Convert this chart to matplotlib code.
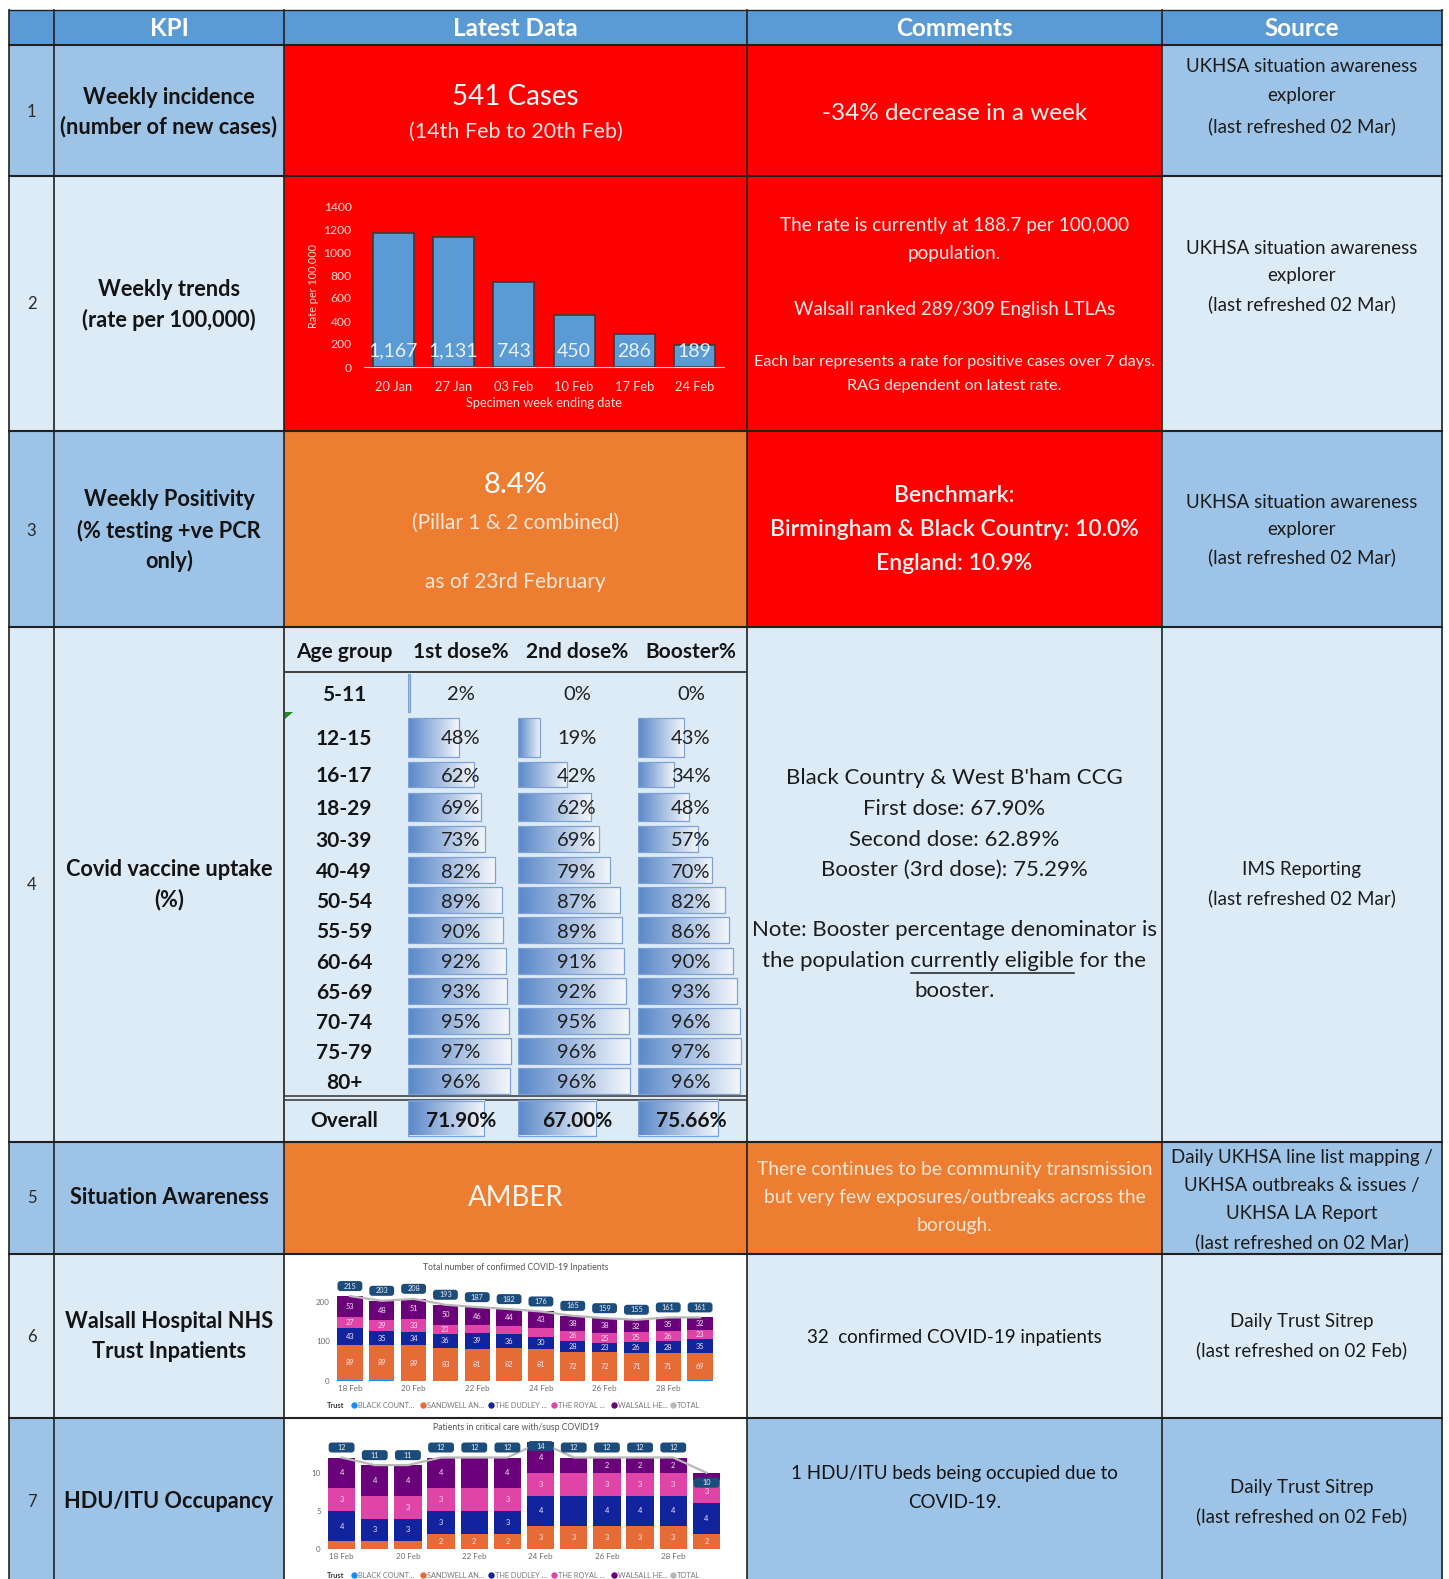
import numpy as np
import matplotlib
matplotlib.use('Agg')
import matplotlib.pyplot as plt
from matplotlib.patches import Rectangle, FancyBboxPatch, Polygon
from matplotlib.colors import LinearSegmentedColormap

plt.rcParams['font.family'] = ['Lato', 'DejaVu Sans']

W, H = 1449, 1579

# ---------------- data ----------------
headers = ['KPI', 'Latest Data', 'Comments', 'Source']

weeks = ['20 Jan', '27 Jan', '03 Feb', '10 Feb', '17 Feb', '24 Feb']
weekly_rate = [1167, 1131, 743, 450, 286, 189]

age_groups = ['5-11', '12-15', '16-17', '18-29', '30-39', '40-49', '50-54',
              '55-59', '60-64', '65-69', '70-74', '75-79', '80+']
first_dose = [2, 48, 62, 69, 73, 82, 89, 90, 92, 93, 95, 97, 96]
second_dose = [0, 19, 42, 62, 69, 79, 87, 89, 91, 92, 95, 96, 96]
booster = [0, 43, 34, 48, 57, 70, 82, 86, 90, 93, 96, 97, 96]
overall = [71.90, 67.00, 75.66]
dose_headers = ['1st dose%', '2nd dose%', 'Booster%']

days = ['18 Feb', '19 Feb', '20 Feb', '21 Feb', '22 Feb', '23 Feb',
        '24 Feb', '25 Feb', '26 Feb', '27 Feb', '28 Feb', '01 Mar']
trusts = ['BLACK COUNT...', 'SANDWELL AN...', 'THE DUDLEY ...',
          'THE ROYAL ...', 'WALSALL HE...', 'TOTAL']

inpat_black = [3, 2, 1, 1, 1, 1, 1, 1, 1, 1, 1, 2]
inpat_sandwell = [89, 89, 89, 83, 81, 82, 81, 72, 72, 71, 71, 69]
inpat_dudley = [43, 35, 34, 36, 39, 36, 30, 28, 23, 26, 28, 35]
inpat_royal = [27, 29, 33, 23, 20, 19, 21, 26, 25, 25, 26, 23]
inpat_walsall = [53, 48, 51, 50, 46, 44, 43, 38, 38, 32, 35, 32]
inpat_total = [215, 203, 208, 193, 187, 182, 176, 165, 159, 155, 161, 161]

icu_black = [0, 0, 0, 0, 0, 0, 0, 0, 0, 0, 0, 0]
icu_sandwell = [1, 1, 1, 2, 2, 2, 3, 3, 3, 3, 3, 2]
icu_dudley = [4, 3, 3, 3, 3, 3, 4, 4, 4, 4, 4, 4]
icu_royal = [3, 3, 3, 3, 3, 3, 3, 3, 3, 3, 3, 3]
icu_walsall = [4, 4, 4, 4, 4, 4, 4, 2, 2, 2, 2, 1]
icu_total = [12, 11, 11, 12, 12, 12, 14, 12, 12, 12, 12, 10]

# ---------------- style ----------------
HEAD = '#5B9BD5'
MID = '#9DC3E6'
LIGHT = '#DDEBF7'
RED = '#FF0000'
ORANGE = '#ED7D31'
WHITE = '#FFFFFF'
INK = '#141414'
trust_colors = ['#118DFF', '#E66C37', '#12239E', '#E044A7', '#6B007B']
total_color = '#B8B8B8'
box_color = '#1B4C7C'

cols = [9, 54, 284, 747, 1162, 1442]
rows = [10, 45, 176, 431, 627, 1142, 1254, 1418, 1579]
# colours per row: (number/KPI/source, latest, comments)
row_fill = [
    (MID, RED, RED),
    (LIGHT, RED, RED),
    (MID, ORANGE, RED),
    (LIGHT, LIGHT, LIGHT),
    (MID, ORANGE, ORANGE),
    (LIGHT, WHITE, LIGHT),
    (MID, WHITE, MID),
]


def frect(x0, y0, x1, y1):
    return [x0 / W, 1 - y1 / H, (x1 - x0) / W, (y1 - y0) / H]


fig = plt.figure(figsize=(W / 100, H / 100), dpi=100)
bg = fig.add_axes([0, 0, 1, 1])
bg.set_xlim(0, W)
bg.set_ylim(H, 0)
bg.axis('off')

# header
bg.add_patch(Rectangle((cols[0], rows[0]), cols[-1] - cols[0], rows[1] - rows[0],
                       fc=HEAD, ec='none'))
for r, (side, latest, comment) in enumerate(row_fill):
    y0, y1 = rows[r + 1], rows[r + 2]
    fills = [side, side, latest, comment, side]
    for c in range(5):
        bg.add_patch(Rectangle((cols[c], y0), cols[c + 1] - cols[c], y1 - y0,
                               fc=fills[c], ec='none'))
for x in cols:
    bg.plot([x, x], [rows[0], H], color='#202020', lw=1.2)
for y in rows[:-1]:
    bg.plot([cols[0], cols[-1]], [y, y], color='#202020', lw=1.5 if y > 10 else 1.0)

# vaccine sub-table lines
bg.plot([cols[2], cols[3]], [672, 672], color='#404040', lw=1.4)
bg.plot([cols[2], cols[3]], [1096, 1096], color='#404040', lw=1.2)
bg.plot([cols[2], cols[3]], [1100, 1100], color='#404040', lw=1.2)
bg.add_patch(Polygon([[285, 712], [293, 712], [285, 719]], closed=True, fc='#1E8C1E', ec='none'))

# ---------------- row 2 chart ----------------
ax2 = fig.add_axes(frect(364, 206, 724, 367))
ax2.patch.set_alpha(0)
xw = np.arange(len(weeks))
ax2.bar(xw, weekly_rate, width=0.68, color='#5B9BD5', edgecolor='#3A3A3A', lw=1.2)
for i, v in enumerate(weekly_rate):
    ax2.text(i, 139, f'{v:,}', ha='center', va='center', fontsize=14, color='#E8F0FA')
ax2.set_xlim(-0.49, 5.49)
ax2.set_ylim(0, 1400)
ax2.set_yticks(range(0, 1401, 200))
ax2.set_xticks(xw, weeks)
for s in ['top', 'right', 'left']:
    ax2.spines[s].set_visible(False)
ax2.spines['bottom'].set_color('#F6CACA')
ax2.tick_params(length=0, colors='#FBDCDC')
ax2.tick_params(axis='x', pad=10, labelsize=9.3)
ax2.tick_params(axis='y', pad=9, labelsize=8.7)
ax2.set_ylabel('Rate per 100,000', fontsize=7.8, color='#FBDCDC', labelpad=3)
ax2.set_xlabel('Specimen week ending date', fontsize=9.2, color='#FBDCDC', labelpad=3)

# ---------------- vaccine data bars ----------------
grad_cmap = LinearSegmentedColormap.from_list('xl', ['#5A88C9', '#F3F6FB'])
grad = np.linspace(0, 1, 64).reshape(1, -1)
bar_x0 = [408, 518, 638]
bar_w100 = [106, 117, 106]
text_x = [461, 577, 691]
row_y = [695, 739, 776, 809, 841, 872, 902, 932, 963, 993, 1023, 1053, 1083]
row_h = [38, 39, 25, 28, 26, 26, 26, 26, 26, 26, 26, 26, 26]
overall_y = 1121
dose_series = [first_dose, second_dose, booster]

for c, series in enumerate(dose_series):
    axv = fig.add_axes(frect(bar_x0[c], 672, bar_x0[c] + bar_w100[c], 1142))
    axv.patch.set_alpha(0)
    axv.axis('off')
    vals = list(series) + [overall[c]]
    ys = [y - 2 for y in row_y] + [1118]
    hs = row_h + [35]
    for v, yc, h in zip(vals, ys, hs):
        if v <= 0:
            continue
        axv.imshow(grad, extent=(0, v, yc + h / 2, yc - h / 2), cmap=grad_cmap,
                   aspect='auto', interpolation='bilinear', zorder=1)
        axv.add_patch(Rectangle((0, yc - h / 2), v, h, fc='none', ec='#7FA2D6', lw=0.9, zorder=2))
    axv.set_xlim(0, 100)
    axv.set_ylim(1142, 672)


# ---------------- stacked charts (rows 6, 7) ----------------
def stacked(rect, series, totals, ymax, yticks, hidden, shifts, label_size, width):
    ax = fig.add_axes(frect(*rect))
    ax.patch.set_alpha(0)
    x = np.arange(len(days))
    bottom = np.zeros(len(days))
    for k, vals in enumerate(series):
        vals = np.array(vals, dtype=float)
        ax.bar(x, vals, bottom=bottom, width=width, color=trust_colors[k], zorder=2)
        for i, v in enumerate(vals):
            if k > 0 and v > 0 and (i, k) not in hidden:
                ax.text(i, bottom[i] + v / 2, f'{int(v)}', ha='center', va='center',
                        fontsize=label_size, color='#F1E4EE', zorder=3)
        bottom += vals
    ax.plot(x, totals, color=total_color, lw=1.6, zorder=4)
    ax.set_xlim(-0.5, len(days) - 0.5)
    ax.set_ylim(0, ymax)
    wpx = (rect[2] - rect[0])
    hpx = (rect[3] - rect[1])
    xu = len(days) / wpx
    yu = ymax / hpx
    for i, t in enumerate(totals):
        yc = t + shifts.get(i, 10 * yu)
        ax.add_patch(FancyBboxPatch((i - 0.39, yc - 5 * yu), 0.78, 10 * yu,
                                    boxstyle=f'round,pad=0,rounding_size={3 * xu}',
                                    mutation_aspect=yu / xu, fc=box_color, ec='none',
                                    zorder=5, clip_on=False))
        ax.text(i, yc, str(t), ha='center', va='center', fontsize=label_size,
                color='#E8EEF5', zorder=6, clip_on=False)
    ax.set_yticks(yticks)
    ax.set_xticks(x[::2], days[::2])
    for s in ax.spines.values():
        s.set_visible(False)
    ax.tick_params(length=0, colors='#6E6E6E', labelsize=5.8, pad=3)
    return ax


stacked((334, 1276, 716, 1381),
        [inpat_black, inpat_sandwell, inpat_dudley, inpat_royal, inpat_walsall],
        inpat_total, 265.8, [0, 100, 200], {(4, 3), (5, 3), (6, 3)}, {}, 5.3, 0.8)

icu_hidden = {(0, 1), (1, 1), (2, 1), (1, 3), (4, 2), (4, 3), (4, 4),
              (7, 2), (7, 3), (7, 4), (11, 4)}
stacked((325, 1427, 723, 1549),
        [icu_black, icu_sandwell, icu_dudley, icu_royal, icu_walsall],
        icu_total, 16, [0, 5, 10], icu_hidden, {6: -0.5, 11: -1.3}, 5.3, 0.82)

# ---------------- text overlay ----------------
top = fig.add_axes([0, 0, 1, 1], zorder=10)
top.set_xlim(0, W)
top.set_ylim(H, 0)
top.axis('off')


def put(x, y, s, size=14, color=INK, weight='normal', ha='center'):
    return top.text(x, y, s, ha=ha, va='center', fontsize=size, color=color,
                    fontweight=weight)


cx = [(cols[i] + cols[i + 1]) / 2 for i in range(5)]
for i, h in enumerate(headers):
    put(cx[i + 1], 28, h, 17.5, WHITE, 'bold')

row_num_y = [112, 304, 531, 885, 1198, 1337, 1502]
for i, y in enumerate(row_num_y):
    put(cx[0], y, str(i + 1), 12, '#2A2A2A')

kpi_lines = [
    [(97, 'Weekly incidence'), (127, '(number of new cases)')],
    [(289, 'Weekly trends'), (320, '(rate per 100,000)')],
    [(500, 'Weekly Positivity'), (531, '(% testing +ve PCR'), (561, 'only)')],
    [(870, 'Covid vaccine uptake'), (900, '(%)')],
    [(1198, 'Situation Awareness')],
    [(1322, 'Walsall Hospital NHS'), (1352, 'Trust Inpatients')],
    [(1502, 'HDU/ITU Occupancy')],
]
for lines in kpi_lines:
    for y, s in lines:
        put(cx[1], y, s, 15.7, INK, 'bold')

# row 1
put(cx[2], 97, '541 Cases', 20, WHITE)
put(cx[2], 132, '(14th Feb to 20th Feb)', 15.5, '#FFE4E4')
put(cx[3], 113, '-34% decrease in a week', 17.5, '#FFF0F0')

# row 2
put(cx[3], 225, 'The rate is currently at 188.7 per 100,000', 13.6, '#FFEAEA')
put(cx[3], 253, 'population.', 13.6, '#FFEAEA')
put(cx[3], 309, 'Walsall ranked 289/309 English LTLAs', 13.6, '#FFEAEA')
put(cx[3], 362, 'Each bar represents a rate for positive cases over 7 days.', 11.6, '#FFEAEA')
put(cx[3], 386, 'RAG dependent on latest rate.', 11.6, '#FFEAEA')

# row 3
put(cx[2], 485, '8.4%', 21, WHITE)
put(cx[2], 523, '(Pillar 1 & 2 combined)', 15, '#FCE8DC')
put(cx[2], 582, 'as of 23rd February', 15, '#FCE8DC')
put(cx[3], 496, 'Benchmark:', 16.5, '#FFF2F2', 'semibold')
put(cx[3], 530, 'Birmingham & Black Country: 10.0%', 16.5, '#FFF2F2', 'semibold')
put(cx[3], 563, 'England: 10.9%', 16.5, '#FFF2F2', 'semibold')

# row 4: vaccine table
put(344, 652, 'Age group', 15, INK, 'bold')
for c, hd in enumerate(dose_headers):
    put(text_x[c], 652, hd, 15, INK, 'bold')
for a, y in zip(age_groups, row_y):
    put(344, y, a, 15, INK, 'bold')
for c, series in enumerate(dose_series):
    for v, y in zip(series, row_y):
        put(text_x[c], y, f'{v}%', 14.5, '#202020')
    put(text_x[c], overall_y, f'{overall[c]:.2f}%', 15, INK, 'bold')
put(344, overall_y, 'Overall', 15, INK, 'bold')

vacc_size = 16
vacc_comments = [
    (778, "Black Country & West B'ham CCG"),
    (809, 'First dose: 67.90%'),
    (840, 'Second dose: 62.89%'),
    (870, 'Booster (3rd dose): 75.29%'),
    (930, 'Note: Booster percentage denominator is'),
    (961, 'the population currently eligible for the'),
    (991, 'booster.'),
]
for y, s in vacc_comments:
    put(cx[3], y, s, vacc_size, '#1C1C1C')
# underline "currently eligible"
fig.canvas.draw()
renderer = fig.canvas.get_renderer()
full_t = [tt for tt in top.texts if tt.get_text().startswith('the population')][0]
fb = full_t.get_window_extent(renderer)
pre = top.text(0, 0, 'the population ', fontsize=vacc_size)
pw = pre.get_window_extent(renderer).width
pre.remove()
mid = top.text(0, 0, 'currently eligible', fontsize=vacc_size)
mw = mid.get_window_extent(renderer).width
mid.remove()
ux0 = fb.x0 + pw
top.plot([ux0, ux0 + mw], [973, 973], color='#1C1C1C', lw=1.1)

# row 5
put(cx[2], 1198, 'AMBER', 20, '#FFF4EC')
for y, s in [(1170, 'There continues to be community transmission'),
             (1198, 'but very few exposures/outbreaks across the'),
             (1226, 'borough.')]:
    put(cx[3], y, s, 13.9, '#FCE6D6')

# row 6 / 7 comments
put(cx[3], 1337, '32  confirmed COVID-19 inpatients', 13.5)
put(cx[3], 1474, '1 HDU/ITU beds being occupied due to', 13.5)
put(cx[3], 1502, 'COVID-19.', 13.5)

# sources
src_ukhsa = ['UKHSA situation awareness', 'explorer', '(last refreshed 02 Mar)']
for ys in [(67, 96, 126), (248, 276, 304), (502, 530, 557)]:
    for y, s in zip(ys, src_ukhsa):
        put(cx[4], y, s, 13.5, '#1C1C1C')
put(cx[4], 870, 'IMS Reporting', 13.5, '#1C1C1C')
put(cx[4], 898, '(last refreshed 02 Mar)', 13.5, '#1C1C1C')
for y, s in zip((1157, 1185, 1213, 1242),
                ['Daily UKHSA line list mapping /', 'UKHSA outbreaks & issues /',
                 'UKHSA LA Report', '(last refreshed on 02 Mar)']):
    put(cx[4], y, s, 13.5, '#1C1C1C')
for ys in [(1322, 1350), (1488, 1516)]:
    for y, s in zip(ys, ['Daily Trust Sitrep', '(last refreshed on 02 Feb)']):
        put(cx[4], y, s, 13.5, '#1C1C1C')

# chart titles and legends for the embedded report visuals
put(516, 1268, 'Total number of confirmed COVID-19 Inpatients', 6.2, '#555555')
put(516, 1427, 'Patients in critical care with/susp COVID19', 6.2, '#555555')
legend_x = [354, 423, 491, 554, 614, 673]
legend_cols = trust_colors + [total_color]
for ly in [1405, 1575]:
    put(336, ly, 'Trust', 5.3, '#333333', 'bold')
    for x, name, col in zip(legend_x, trusts, legend_cols):
        top.plot([x], [ly], 'o', ms=3.6, color=col)
        top.text(x + 4, ly, name, ha='left', va='center', fontsize=5.3, color='#777777')

fig.savefig('out.png', dpi=100)
